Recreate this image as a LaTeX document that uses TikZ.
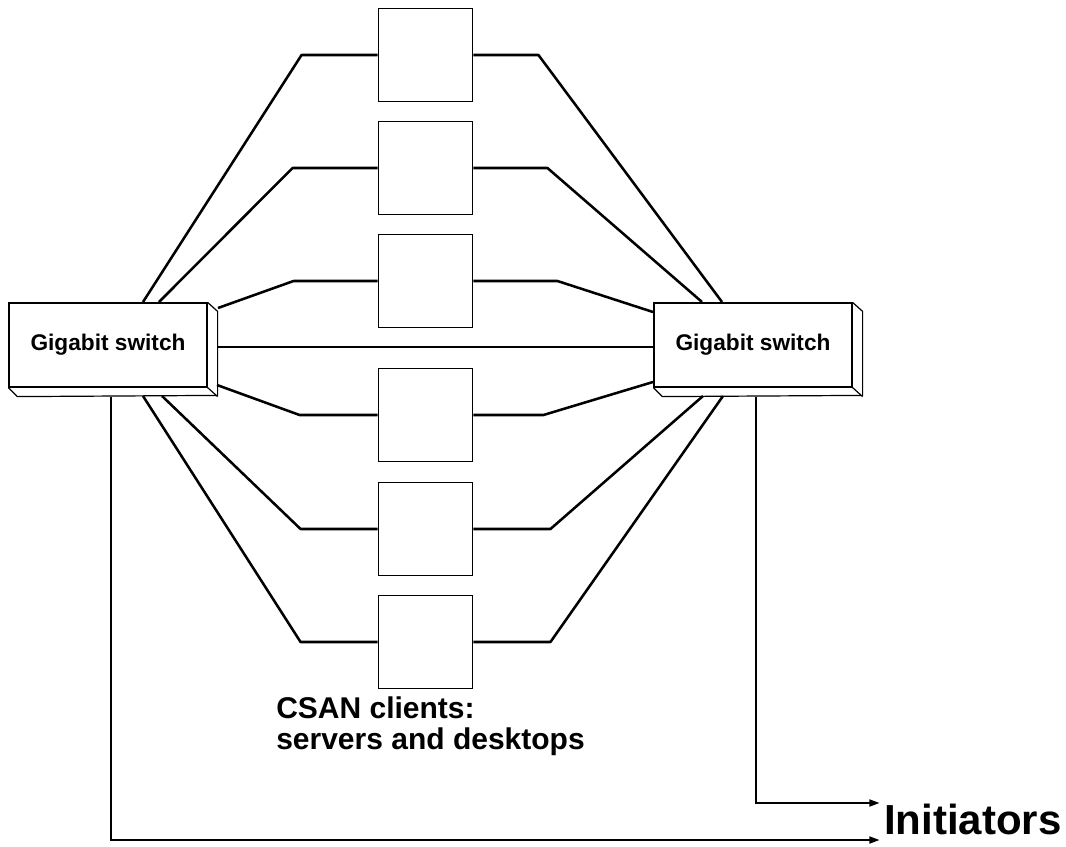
\documentclass[tikz,border=0pt]{standalone}
\usepackage{fontspec}
\setmainfont{Liberation Sans}
\usetikzlibrary{arrows.meta,calc}

\begin{document}
\begin{tikzpicture}[x=0.75pt,y=-0.75pt,
  client/.style={draw,line width=0.9pt,minimum width=71pt,minimum height=70pt,inner sep=0},
  switchbox/.style={draw,line width=0.9pt,minimum width=148.5pt,minimum height=63pt,inner sep=0,
    font=\bfseries\fontsize{17}{20}\selectfont},
  link/.style={line width=1.9pt,line join=round},
  feed/.style={line width=1.9pt,-{Triangle[length=8pt,width=5pt]}}]
  \useasboundingbox (0,0) rectangle (1066,846);

  % the two switches, with a flat 3d edge
  \node[switchbox] (swL) at (108,345) {Gigabit switch};
  \node[switchbox] (swR) at (753,345) {Gigabit switch};
  \foreach \s in {swL,swR} {
    \draw[line width=0.9pt] (\s.north east) -- ++(10,9) -- ++(0,84)
      -- ($(\s.south west)+(9,9)$) -- (\s.south west);
    \draw[line width=0.9pt] (\s.south east) -- ++(10,9);
  }

  % clients in the middle
  \foreach \n/\y in {1/55,2/168,3/281,4/415,5/529,6/642}
    \node[client] (c\n) at (425.5,\y) {};

  % links client -> both switches
  \foreach \n/\dl/\xl/\yl/\dr/\xr/\yr in {
    1/76/35/-43/65/-31/-43,
    2/85/51/-43/74/-51/-43,
    3/84/110/-37/84/-100/-33,
    4/78/109/40/70/-100/37,
    5/77/54/51/77/-50/51,
    6/77/35/51/77/-30/51} {
    \draw[link] (c\n.west) -- ++(-\dl,0) -- ($(swL.center)+(\xl,\yl)$);
    \draw[link] (c\n.east) -- ++(\dr,0) -- ($(swR.center)+(\xr,\yr)$);
  }
  \draw[link] ($(swL.east)+(10,2)$) -- ($(swR.west)+(0,2)$);

  % uplinks to the initiators
  \coordinate (inA) at (880,803);
  \coordinate (inB) at (880,840);
  \draw[feed] ($(swR.south)+(3,9)$) |- (inA);
  \draw[feed] ($(swL.south)+(3,9)$) |- (inB);
  \node[font=\bfseries\fontsize{31.5}{36}\selectfont,anchor=base west,inner sep=0] (init) at (884,834) {Initiators};

  \node[font=\bfseries\fontsize{22.5}{23.25}\selectfont,anchor=north west,align=left,inner sep=0] (csan)
    at (276,696) {CSAN clients:\\servers and desktops};
\end{tikzpicture}
\end{document}
